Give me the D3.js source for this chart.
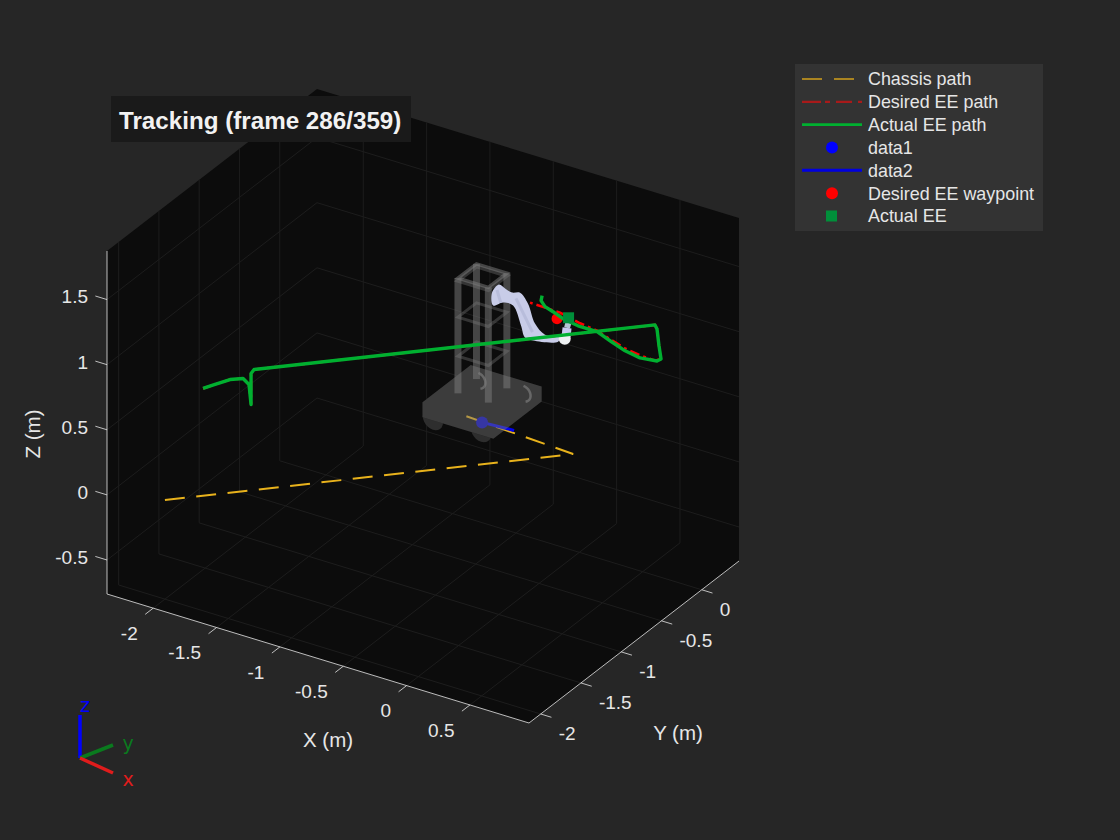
<!DOCTYPE html>
<html><head><meta charset="utf-8">
<script src="https://cdn.jsdelivr.net/npm/d3@7"></script>
<style>html,body{margin:0;padding:0;background:#262626;}svg{display:block;}text{font-family:"Liberation Sans",Arial,sans-serif;}</style>
</head><body><svg id="c" width="1120" height="840"></svg>
<script>
// ---- axis limits and ticks (metres) ----
const xLim=[-2.365,0.966], yLim=[-2.145,0.463], zLim=[-0.761,1.873];
const xTicks=[-2,-1.5,-1,-0.5,0,0.5];
const yTicks=[-2,-1.5,-1,-0.5,0];
const zTicks=[-0.5,0,0.5,1,1.5];
// ---- series: [x,y,z] ----
const chassisPath=[[-2,-2,0],[-0.03,-0.03,0],[-0.93,0.03,0]];
const actualEE=[[-1.75,-1.92,0.893],[-1.655,-1.92,0.952],[-1.537,-1.92,1.025],[-1.434,-1.92,1.063],[-1.387,-1.92,1.031],
 [-1.371,-1.92,0.883],[-1.371,-1.92,1.12],[-1.347,-1.92,1.158],[0.597,0,1.163],[0.613,0,1.137],[0.629,0,1.011],[0.645,0,0.916],
 [0.613,0,0.891],[0.479,0,0.875],[0.361,0,0.894],[0.242,0,0.936],[0.14,0,0.975],[-0.01,0,0.976],[-0.129,0,0.995],
 [-0.208,0,1.025],[-0.271,0,1.045],[-0.302,0,1.082],[-0.294,0,1.123]];
const desiredEE=[[-1.75,-1.92,0.893],[-1.655,-1.92,0.952],[-1.537,-1.92,1.025],[-1.434,-1.92,1.063],[-1.387,-1.92,1.031],
 [-1.371,-1.92,0.883],[-1.371,-1.92,1.12],[-1.347,-1.92,1.158],[0.597,0,1.163],[0.613,0,1.137],[0.629,0,1.011],[0.645,0,0.916],
 [0.597,0,0.888],[0.479,0,0.895],[0.361,0,0.912],[0.242,0,0.948],[0.14,0,0.983],[0.006,0,1.0],[-0.152,0,1.035],[-0.271,0,1.038],[-0.389,0,1.041]];
const basePoint=[-0.776,0.013,0];
const headingLine=[[-0.776,0.013,0],[-0.536,0.033,0]];
const desiredPoint=[-0.176,0,0.981];
const actualPoint=[-0.085,0,1.015];
// ---- robot geometry ----
const bodyX=[-1.056,-0.496], bodyY=[-0.287,0.313], bodyZ=[0.1,0.215];
const towerX=[-0.92,-0.68], towerY=[-0.06,0.17], towerZ=[0.215,1.1];
const towerRungs=[0.5,0.8,1.08];
const wheels=[[-1.0,-0.245,0.08],[-0.639,-0.215,0.08]];
const hubs=[[-0.68,0.37,0.08],[-1.03,0.36,0.08]];
const armOutline=[[-0.689,0,1.029],[-0.634,0,1.107],[-0.586,0,1.091],[-0.531,0,1.076],[-0.468,0,1.094],[-0.405,0,1.028],
 [-0.35,0,0.892],[-0.271,0,0.83],[-0.152,0,0.85],[-0.168,0,0.807],[-0.365,0,0.757],[-0.429,0,0.761],[-0.46,0,0.843],
 [-0.523,0,0.979],[-0.602,0,0.979],[-0.681,0,0.932]];
const armShade=[[[-0.5,0,1.04],[-0.37,0,0.82]],[[-0.65,0,1.06],[-0.62,0,0.97]]];
const armWrist=[[-0.105,0,0.864],[-0.097,0,0.934]];
const armTool=[[-0.097,0,0.934],[-0.081,0,1.0]];
const wristJoint=[-0.115,0,0.845];
// ---- legend ----
const legendLabels=["Chassis path","Desired EE path","Actual EE path","data1","data2","Desired EE waypoint","Actual EE"];
const title="Tracking (frame 286/359)";

const svg=d3.select("#c");
const u=d3.scaleLinear(xLim,[0,1]), v=d3.scaleLinear(yLim,[0,1]), w=d3.scaleLinear(zLim,[0,1]);
const O=[107,594], EX=[422,129], EY=[210,-162], EZ=[0,-343];
const P=(p)=>[O[0]+u(p[0])*EX[0]+v(p[1])*EY[0]+w(p[2])*EZ[0], O[1]+u(p[0])*EX[1]+v(p[1])*EY[1]+w(p[2])*EZ[1]];
const line3=d3.line().x(d=>P(d)[0]).y(d=>P(d)[1]);
const smooth3=d3.line().x(d=>P(d)[0]).y(d=>P(d)[1]).curve(d3.curveCatmullRomClosed.alpha(0.5));
const [x0,x1]=xLim,[y0,y1]=yLim,[z0,z1]=zLim;

svg.append("path").attr("fill","#0c0c0c").attr("d",line3([[x0,y0,z0],[x0,y0,z1],[x0,y1,z1],[x1,y1,z1],[x1,y1,z0],[x1,y0,z0]])+"Z");
const grid=[];
xTicks.forEach(t=>{grid.push([[t,y0,z0],[t,y1,z0]]);grid.push([[t,y1,z0],[t,y1,z1]]);});
yTicks.forEach(t=>{grid.push([[x1,t,z0],[x0,t,z0]]);grid.push([[x0,t,z0],[x0,t,z1]]);});
zTicks.forEach(t=>{grid.push([[x0,y0,t],[x0,y1,t]]);grid.push([[x0,y1,t],[x1,y1,t]]);});
svg.append("g").selectAll("path").data(grid).join("path").attr("d",line3).attr("stroke","#1d1d1d").attr("stroke-width",1).attr("fill","none");
const ax=svg.append("g").attr("stroke","#e6e6e6").attr("stroke-width",0.8).attr("fill","none");
[[[x0,y0,z0],[x1,y0,z0]],[[x1,y0,z0],[x1,y1,z0]],[[x0,y0,z0],[x0,y0,z1]]].forEach(s=>ax.append("path").attr("d",line3(s)));
xTicks.forEach(t=>ax.append("path").attr("d",line3([[t,y0,z0],[t,y0-0.1,z0]])));
yTicks.forEach(t=>ax.append("path").attr("d",line3([[x1,t,z0],[x1+0.085,t,z0]])));
zTicks.forEach(t=>ax.append("path").attr("d",line3([[x0,y0,t],[x0-0.092,y0,t]])));
const lab=svg.append("g").attr("fill","#e6e6e6").attr("font-size",19);
const fmt=d=>String(d);
xTicks.forEach(t=>{const p=P([t,y0,z0]);lab.append("text").attr("x",p[0]-15.5).attr("y",p[1]+25).attr("dy","0.36em").attr("text-anchor","end").text(fmt(t));});
yTicks.forEach(t=>{const p=P([x1,t,z0]);lab.append("text").attr("x",p[0]+18).attr("y",p[1]+19).attr("dy","0.36em").attr("text-anchor","start").text(fmt(t));});
zTicks.forEach(t=>{const p=P([x0,y0,t]);lab.append("text").attr("x",p[0]-19).attr("y",p[1]-3).attr("dy","0.36em").attr("text-anchor","end").text(fmt(t));});
const al=svg.append("g").attr("fill","#e6e6e6").attr("font-size",20.5).attr("text-anchor","middle");
al.append("text").attr("x",328).attr("y",740).attr("dy","0.36em").text("X (m)");
al.append("text").attr("x",678).attr("y",733).attr("dy","0.36em").text("Y (m)");
al.append("text").attr("transform","translate(33,434) rotate(-90)").attr("dy","0.36em").text("Z (m)");

// robot wheels, hidden behind the body silhouette
const mesh0=svg.append("g");
const wheelR=0.08;
wheels.forEach(c=>{
 const ring=d3.range(0,25).map(k=>{const a=k/24*2*Math.PI;return [c[0]+wheelR*Math.cos(a),c[1],c[2]+wheelR*Math.sin(a)];});
 mesh0.append("path").attr("d",line3(ring)+"Z").attr("fill","#2e2e2e");
});
const [bx0,bx1]=bodyX,[by0,by1]=bodyY,[bz0,bz1]=bodyZ;
const bodyPoly=[[bx0,by0,bz1],[bx0,by1,bz1],[bx1,by1,bz1],[bx1,by1,bz0],[bx1,by0,bz0],[bx0,by0,bz0]];
mesh0.append("path").attr("fill","#0c0c0c").attr("d",line3(bodyPoly)+"Z");

// chassis path + heading (under the translucent robot)
svg.append("path").attr("d",line3(chassisPath)).attr("fill","none").attr("stroke","#e8b21c").attr("stroke-width",2).attr("stroke-dasharray","20,11.5");
svg.append("path").attr("d",line3(headingLine)).attr("fill","none").attr("stroke","#0000f0").attr("stroke-width",3);
svg.append("circle").attr("cx",P(basePoint)[0]).attr("cy",P(basePoint)[1]).attr("r",6).attr("fill","#0000c8");

// robot body, tower, arm
const mesh=svg.append("g");
const grey="rgba(125,125,125,0.5)";
mesh.append("path").attr("fill","rgb(120,120,120)").attr("fill-opacity",0.45).attr("d",line3(bodyPoly)+"Z");
hubs.forEach(c=>{
 const arc=d3.range(0,13).map(k=>{const a=(-70+k*13)*Math.PI/180;return [c[0]+0.06*Math.cos(a),c[1],c[2]+0.06*Math.sin(a)];});
 mesh.append("path").attr("d",line3(arc)).attr("fill","none").attr("stroke","#8a8a8a").attr("stroke-opacity",.55).attr("stroke-width",2.5);
});
const [tx0,tx1]=towerX,[ty0,ty1]=towerY,[tz0,tz1]=towerZ;
const corners=[[tx1,ty1],[tx0,ty1],[tx0,ty0],[tx1,ty0]];
towerRungs.forEach(z=>{
 mesh.append("path").attr("d",line3(corners.map(c=>[c[0],c[1],z]))+"Z").attr("fill","none").attr("stroke","rgba(125,125,125,0.36)").attr("stroke-width",z>1?4:3);
});
corners.forEach(c=>mesh.append("path").attr("d",line3([[c[0],c[1],tz0],[c[0],c[1],tz1]])).attr("stroke",grey).attr("stroke-width",7).attr("fill","none"));
mesh.append("path").attr("d",line3(corners.map(c=>[c[0],c[1],tz1]))+"Z").attr("fill","none").attr("stroke",grey).attr("stroke-width",3.5);
mesh.append("path").attr("d",smooth3(armOutline)).attr("fill","#c8cce8");
armShade.forEach(s=>mesh.append("path").attr("d",line3(s)).attr("fill","none").attr("stroke","#aeb2d2").attr("stroke-opacity",.6).attr("stroke-width",3));
mesh.append("path").attr("d",line3(armWrist)).attr("fill","none").attr("stroke","#c8c9f0").attr("stroke-width",9);
mesh.append("path").attr("d",line3(armTool)).attr("fill","none").attr("stroke","#b4c4d4").attr("stroke-width",6);
svg.append("circle").attr("cx",P(wristJoint)[0]).attr("cy",P(wristJoint)[1]).attr("r",6).attr("fill","#eef0f2");

// EE paths and markers
svg.append("path").attr("d",line3(desiredEE)).attr("fill","none").attr("stroke","#ff0000").attr("stroke-width",2.5).attr("stroke-dasharray","10,4,3,4");
svg.append("circle").attr("cx",P(desiredPoint)[0]).attr("cy",P(desiredPoint)[1]).attr("r",5.5).attr("fill","#ff0000");
svg.append("path").attr("d",line3(actualEE)).attr("fill","none").attr("stroke","#00b030").attr("stroke-width",3.4).attr("stroke-linejoin","round");
svg.append("rect").attr("x",P(actualPoint)[0]-5.5).attr("y",P(actualPoint)[1]-5.5).attr("width",11).attr("height",11).attr("fill","#008f3a");

// title
svg.append("rect").attr("x",111).attr("y",96).attr("width",300).attr("height",46).attr("fill","#1a1a1a");
svg.append("text").attr("x",119).attr("y",120).attr("dy","0.36em").attr("fill","#f2f2f2").attr("font-size",24.2).attr("font-weight","bold").text(title);

// legend
const lg=svg.append("g");
lg.append("rect").attr("x",795).attr("y",64).attr("width",248).attr("height",167).attr("fill","#333333");
const rowY=d3.scalePoint(legendLabels,[79,216]);
lg.selectAll("text").data(legendLabels).join("text").attr("x",868).attr("y",d=>rowY(d)).attr("dy","0.36em").attr("fill","#e6e6e6").attr("font-size",17.9).text(d=>d);
const sample=(i,c,sw,dash)=>lg.append("line").attr("x1",802).attr("x2",862).attr("y1",rowY(legendLabels[i])).attr("y2",rowY(legendLabels[i])).attr("stroke",c).attr("stroke-width",sw).attr("stroke-dasharray",dash||null);
sample(0,"#d2a01c",1.6,"20,12,20,8");
sample(1,"#a81a1a",2.2,"19,4,5,6,16,6,4,2");
sample(2,"#00b030",2.6);
sample(4,"#0000e0",3);
lg.append("circle").attr("cx",832).attr("cy",rowY(legendLabels[3])).attr("r",6).attr("fill","#0000ff");
lg.append("circle").attr("cx",832).attr("cy",rowY(legendLabels[5])).attr("r",6).attr("fill","#ff0000");
lg.append("rect").attr("x",826).attr("y",rowY(legendLabels[6])-5.5).attr("width",11).attr("height",11).attr("fill","#008f3a");

// orientation triad
const triadOrigin=[80,758];
const triad=[{n:"z",d:[0,-43],c:"#0000ff",l:[85,706]},{n:"y",d:[33,-13],c:"#0a7a1e",l:[128,744]},{n:"x",d:[33,15],c:"#e01c1c",l:[128,780]}];
const tg=svg.append("g");
triad.forEach(t=>{
 tg.append("line").attr("x1",triadOrigin[0]).attr("y1",triadOrigin[1]).attr("x2",triadOrigin[0]+t.d[0]).attr("y2",triadOrigin[1]+t.d[1]).attr("stroke",t.c).attr("stroke-width",3.5);
 tg.append("text").attr("x",t.l[0]).attr("y",t.l[1]).attr("dy","0.3em").attr("text-anchor","middle").attr("fill",t.c).attr("font-size",19).style("font-family","DejaVu Sans").text(t.n);
});
</script></body></html>
